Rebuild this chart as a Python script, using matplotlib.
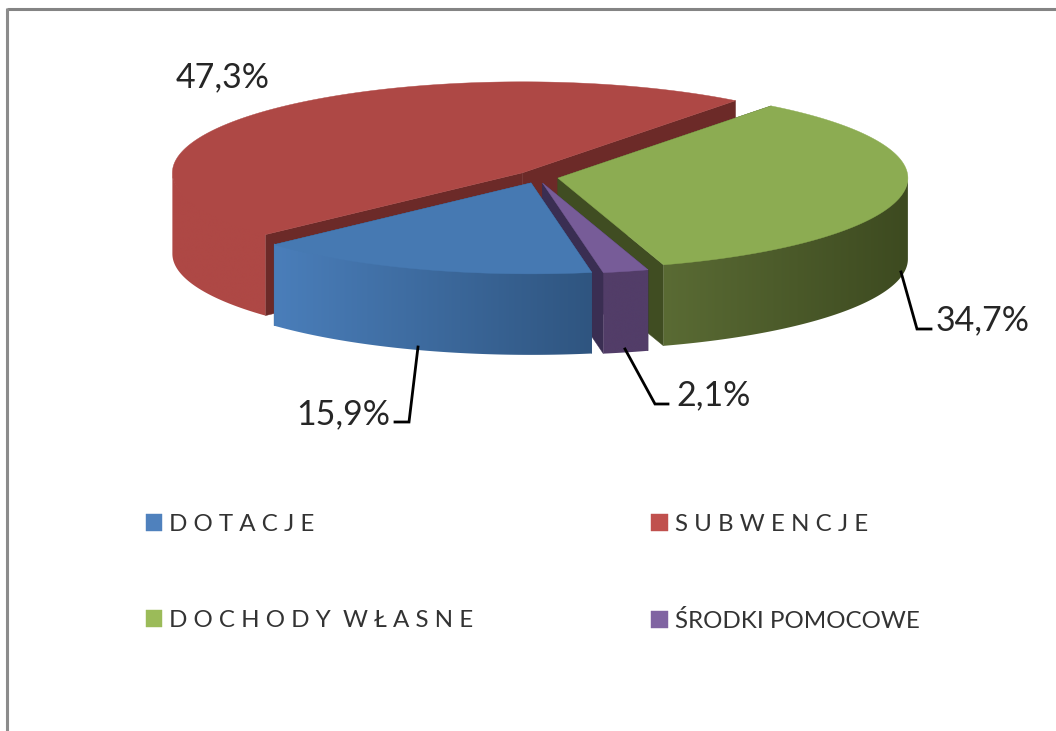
import matplotlib
matplotlib.use("Agg")
import matplotlib.pyplot as plt
from matplotlib.colors import LinearSegmentedColormap
from matplotlib.patches import Patch, Polygon
import numpy as np

plt.rcParams['font.family'] = ['Lato', 'DejaVu Sans']

categories = ["D O T A C J E", "S U B W E N C J E", "D O C H O D Y  W Ł A S N E", "ŚRODKI POMOCOWE"]
values = [15.9, 47.3, 34.7, 2.1]

swatch_colors = ["#4F81BD", "#C0504D", "#9BBB59", "#8064A2"]
top_colors = ["#4679B2", "#AE4845", "#8CAC52", "#775C98"]
side_colors = ["#2F5580", "#6C2A28", "#404D22", "#3A2E52"]
# wall colour at the left end and at the right end of each wedge
wall_colors = [("#4A7EBA", "#2F5580"), ("#AE4845", "#AE4845"), ("#5A6B34", "#3D4A20"), ("#523D68", "#523D68")]

# drawing order, back to front
draw_order = [1, 2, 3, 0]
legend_order = [0, 2, 1, 3]

# pie geometry, image pixels
cx, cy = 537.6, 177.0
rx, ry = 350, 91
depth = 81
explode_x, explode_y = 20.6, 6.2
start_angle = 170.0

fig = plt.figure(figsize=(10.56, 7.31), dpi=100)
ax = fig.add_axes([0, 0, 1, 1])
ax.axis("off")

# grey frame, only top and left are inside the picture
ax.plot([6.5, 1056], [8.5, 8.5], color="#848484", lw=2.2, solid_capstyle="butt")
ax.plot([6.5, 6.5], [7.5, 731], color="#8c8c8c", lw=2.2, solid_capstyle="butt")


def rim(apex, t):
    t = np.radians(t)
    return apex[0] + rx * np.sin(t), apex[1] - ry * np.cos(t)


def draw_wedge(i, t0, t1, z):
    mid = np.radians((t0 + t1) / 2)
    apex = (cx + explode_x * np.sin(mid), cy - explode_y * np.cos(mid))

    # cut faces
    for t in (t0, t1):
        x, y = rim(apex, t)
        quad = [apex, (x, y), (x, y + depth), (apex[0], apex[1] + depth)]
        ax.add_patch(Polygon(quad, closed=True, fc=side_colors[i], ec=side_colors[i], lw=0.3, zorder=z))

    # outer wall, only the front half of the ellipse shows
    cmap = LinearSegmentedColormap.from_list("wall", wall_colors[i])
    for k in (0, 360):
        a0, a1 = max(t0, 90 + k), min(t1, 270 + k)
        if a1 <= a0:
            continue
        arc = [rim(apex, a) for a in np.linspace(a0, a1, 100)]
        # upper edge runs 1px under the top face so no seam shows
        outline = [(x, y - 1) for x, y in arc] + [(x, y + depth) for x, y in arc[::-1]]
        wall = Polygon(outline, closed=True, fc="none", ec="none")
        ax.add_patch(wall)
        xs = [p[0] for p in outline]
        ys = [p[1] for p in outline]
        im = ax.imshow(np.linspace(0, 1, 256)[None, :], cmap=cmap, aspect="auto", vmin=0, vmax=1,
                       extent=(min(xs), max(xs), max(ys), min(ys)), interpolation="bilinear", zorder=z + 0.3)
        im.set_clip_path(wall)

    # top face
    pts = [apex] + [rim(apex, t) for t in np.linspace(t0, t1, 200)]
    ax.add_patch(Polygon(pts, closed=True, fc=top_colors[i], ec=top_colors[i], lw=0.3, zorder=z + 0.6))


edges = start_angle + np.concatenate([[0], np.cumsum(values)]) * 3.6
for n, i in enumerate(draw_order):
    draw_wedge(i, edges[i], edges[i + 1], 1 + n)

ax.set_xlim(0, 1056)
ax.set_ylim(731, 0)

# leader lines
ax.plot([418, 409, 395], [347, 422, 422], color="black", lw=2, solid_joinstyle="miter", zorder=8)
ax.plot([625, 655, 668], [349, 404, 404], color="black", lw=2, solid_joinstyle="miter", zorder=8)
ax.plot([901, 917, 931], [272, 329, 329], color="black", lw=2, solid_joinstyle="miter", zorder=8)

# data labels
label_pos = [(296, 424), (176, 87), (936, 330), (676, 405)]
for v, (x, y) in zip(values, label_pos):
    ax.text(x, y, f"{v:.1f}%".replace(".", ","), fontsize=24.5, color="#262626", ha="left", va="baseline")

handles = [Patch(fc=swatch_colors[i], ec=swatch_colors[i], lw=0.3) for i in legend_order]
labels = [categories[i] for i in legend_order]
fs = 17.4
ax.legend(handles, labels, ncol=2, frameon=False, fontsize=fs, labelcolor="#333333",
          loc="upper left", bbox_to_anchor=(146 / 1056, 1 - 514 / 731), borderpad=0, borderaxespad=0,
          handlelength=0.67, handleheight=0.67, handletextpad=0.3, labelspacing=3.1, columnspacing=7.35)

plt.savefig("out.png", dpi=100)
